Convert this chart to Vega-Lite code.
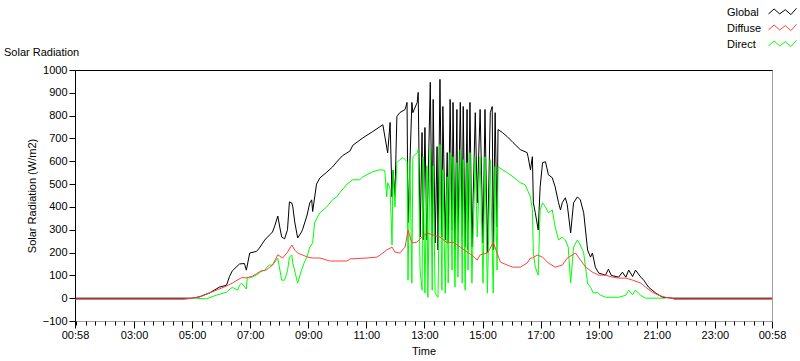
{
"$schema": "https://vega.github.io/schema/vega-lite/v6.json",
"width": 697, "height": 251,
"autosize": {"type": "none"},
"padding": {"left": 75, "top": 70, "right": 28, "bottom": 40},
"background": "white",
"title": {"text": "Solar Radiation", "anchor": "start", "frame": "group", "dx": -71, "offset": 3, "dy": 65, "baseline": "alphabetic", "font": "Liberation Sans", "fontSize": 11, "fontWeight": "normal", "color": "black"},
"config": {"view": {"stroke": "#a0a0a0"}},
"datasets": {
"g": [{"m":58,"v":0},{"m":300,"v":0},{"m":315,"v":6},{"m":336,"v":23},{"m":356,"v":48},{"m":371,"v":57},{"m":377,"v":94},{"m":383,"v":120},{"m":398,"v":150},{"m":408,"v":152},{"m":412,"v":123},{"m":419,"v":198},{"m":433,"v":205},{"m":439,"v":220},{"m":450,"v":255},{"m":454,"v":264},{"m":460,"v":277},{"m":466,"v":290},{"m":470,"v":312},{"m":477,"v":360},{"m":481,"v":312},{"m":485,"v":268},{"m":491,"v":260},{"m":497,"v":300},{"m":501,"v":422},{"m":506,"v":417},{"m":508,"v":400},{"m":512,"v":334},{"m":518,"v":264},{"m":526,"v":290},{"m":528,"v":300},{"m":537,"v":360},{"m":543,"v":417},{"m":547,"v":431},{"m":549,"v":380},{"m":557,"v":500},{"m":564,"v":527},{"m":578,"v":552},{"m":590,"v":575},{"m":599,"v":598},{"m":611,"v":625},{"m":626,"v":645},{"m":632,"v":670},{"m":653,"v":703},{"m":673,"v":730},{"m":694,"v":760},{"m":704,"v":637},{"m":709,"v":770},{"m":713,"v":444},{"m":715,"v":560},{"m":719,"v":450},{"m":723,"v":796},{"m":729,"v":813},{"m":740,"v":827},{"m":744,"v":858},{"m":746,"v":330},{"m":754,"v":858},{"m":756,"v":813},{"m":765,"v":858},{"m":767,"v":902},{"m":771,"v":268},{"m":775,"v":726},{"m":777,"v":255},{"m":781,"v":748},{"m":785,"v":255},{"m":792,"v":946},{"m":796,"v":268},{"m":798,"v":871},{"m":802,"v":242},{"m":806,"v":664},{"m":808,"v":211},{"m":812,"v":959},{"m":816,"v":268},{"m":818,"v":840},{"m":823,"v":255},{"m":827,"v":638},{"m":829,"v":242},{"m":833,"v":871},{"m":837,"v":299},{"m":839,"v":858},{"m":843,"v":211},{"m":847,"v":827},{"m":849,"v":242},{"m":854,"v":858},{"m":858,"v":268},{"m":860,"v":840},{"m":864,"v":224},{"m":868,"v":827},{"m":870,"v":211},{"m":874,"v":858},{"m":878,"v":224},{"m":885,"v":813},{"m":889,"v":418},{"m":895,"v":827},{"m":901,"v":242},{"m":905,"v":827},{"m":910,"v":198},{"m":916,"v":813},{"m":920,"v":840},{"m":922,"v":211},{"m":926,"v":813},{"m":930,"v":312},{"m":932,"v":739},{"m":941,"v":726},{"m":951,"v":708},{"m":963,"v":682},{"m":978,"v":651},{"m":992,"v":638},{"m":994,"v":620},{"m":999,"v":563},{"m":1003,"v":620},{"m":1005,"v":418},{"m":1009,"v":374},{"m":1015,"v":299},{"m":1019,"v":488},{"m":1024,"v":594},{"m":1030,"v":598},{"m":1036,"v":541},{"m":1044,"v":528},{"m":1050,"v":488},{"m":1057,"v":418},{"m":1061,"v":387},{"m":1065,"v":420},{"m":1071,"v":440},{"m":1075,"v":410},{"m":1082,"v":286},{"m":1088,"v":418},{"m":1096,"v":444},{"m":1102,"v":431},{"m":1109,"v":374},{"m":1117,"v":211},{"m":1123,"v":180},{"m":1127,"v":198},{"m":1133,"v":136},{"m":1140,"v":110},{"m":1154,"v":101},{"m":1160,"v":127},{"m":1166,"v":100},{"m":1181,"v":92},{"m":1189,"v":114},{"m":1196,"v":92},{"m":1202,"v":123},{"m":1210,"v":95},{"m":1216,"v":123},{"m":1227,"v":92},{"m":1233,"v":79},{"m":1243,"v":48},{"m":1258,"v":22},{"m":1272,"v":4},{"m":1293,"v":0},{"m":1498,"v":0}],
"d": [{"m":58,"v":-5},{"m":284,"v":-5},{"m":300,"v":0},{"m":315,"v":5},{"m":342,"v":28},{"m":371,"v":53},{"m":383,"v":66},{"m":402,"v":90},{"m":412,"v":89},{"m":425,"v":97},{"m":439,"v":115},{"m":454,"v":125},{"m":466,"v":145},{"m":477,"v":190},{"m":487,"v":176},{"m":497,"v":202},{"m":506,"v":233},{"m":512,"v":211},{"m":518,"v":198},{"m":528,"v":189},{"m":539,"v":180},{"m":549,"v":176},{"m":564,"v":176},{"m":584,"v":163},{"m":620,"v":163},{"m":626,"v":172},{"m":661,"v":176},{"m":682,"v":180},{"m":694,"v":198},{"m":702,"v":211},{"m":713,"v":224},{"m":719,"v":202},{"m":729,"v":198},{"m":740,"v":224},{"m":746,"v":299},{"m":754,"v":242},{"m":765,"v":246},{"m":775,"v":268},{"m":785,"v":286},{"m":798,"v":277},{"m":812,"v":268},{"m":827,"v":242},{"m":839,"v":246},{"m":854,"v":224},{"m":868,"v":202},{"m":878,"v":189},{"m":889,"v":167},{"m":895,"v":190},{"m":910,"v":198},{"m":916,"v":220},{"m":922,"v":246},{"m":930,"v":198},{"m":937,"v":158},{"m":951,"v":145},{"m":963,"v":136},{"m":978,"v":136},{"m":992,"v":154},{"m":999,"v":176},{"m":1003,"v":176},{"m":1013,"v":189},{"m":1024,"v":180},{"m":1036,"v":154},{"m":1050,"v":136},{"m":1065,"v":145},{"m":1075,"v":176},{"m":1092,"v":198},{"m":1098,"v":180},{"m":1113,"v":136},{"m":1127,"v":114},{"m":1140,"v":101},{"m":1154,"v":101},{"m":1169,"v":92},{"m":1181,"v":88},{"m":1196,"v":88},{"m":1210,"v":79},{"m":1227,"v":66},{"m":1237,"v":48},{"m":1251,"v":26},{"m":1264,"v":13},{"m":1278,"v":4},{"m":1293,"v":0},{"m":1295,"v":-5},{"m":1498,"v":-5}],
"b": [{"m":305,"v":0},{"m":329,"v":-3},{"m":350,"v":13},{"m":371,"v":26},{"m":383,"v":48},{"m":394,"v":35},{"m":398,"v":57},{"m":402,"v":66},{"m":412,"v":40},{"m":414,"v":92},{"m":419,"v":88},{"m":433,"v":101},{"m":439,"v":110},{"m":443,"v":123},{"m":450,"v":120},{"m":454,"v":136},{"m":460,"v":145},{"m":466,"v":145},{"m":477,"v":175},{"m":485,"v":79},{"m":491,"v":79},{"m":497,"v":120},{"m":501,"v":180},{"m":506,"v":189},{"m":508,"v":154},{"m":518,"v":66},{"m":526,"v":123},{"m":532,"v":158},{"m":537,"v":180},{"m":543,"v":224},{"m":549,"v":242},{"m":553,"v":330},{"m":559,"v":356},{"m":564,"v":374},{"m":578,"v":400},{"m":590,"v":431},{"m":599,"v":444},{"m":605,"v":462},{"m":620,"v":500},{"m":632,"v":519},{"m":646,"v":519},{"m":653,"v":532},{"m":661,"v":541},{"m":673,"v":554},{"m":688,"v":563},{"m":698,"v":560},{"m":702,"v":444},{"m":704,"v":506},{"m":709,"v":480},{"m":713,"v":233},{"m":715,"v":560},{"m":719,"v":400},{"m":723,"v":594},{"m":729,"v":607},{"m":736,"v":616},{"m":744,"v":598},{"m":746,"v":79},{"m":750,"v":600},{"m":754,"v":66},{"m":756,"v":620},{"m":765,"v":638},{"m":767,"v":651},{"m":771,"v":123},{"m":775,"v":35},{"m":777,"v":620},{"m":781,"v":22},{"m":785,"v":580},{"m":787,"v":4},{"m":792,"v":660},{"m":796,"v":35},{"m":798,"v":580},{"m":802,"v":22},{"m":808,"v":4},{"m":812,"v":673},{"m":816,"v":35},{"m":818,"v":563},{"m":823,"v":22},{"m":827,"v":532},{"m":829,"v":66},{"m":833,"v":638},{"m":837,"v":123},{"m":839,"v":620},{"m":843,"v":48},{"m":847,"v":594},{"m":849,"v":92},{"m":854,"v":651},{"m":858,"v":66},{"m":860,"v":607},{"m":864,"v":35},{"m":868,"v":594},{"m":870,"v":123},{"m":874,"v":638},{"m":878,"v":66},{"m":885,"v":620},{"m":889,"v":268},{"m":895,"v":620},{"m":901,"v":66},{"m":905,"v":620},{"m":910,"v":22},{"m":916,"v":607},{"m":922,"v":22},{"m":926,"v":576},{"m":930,"v":123},{"m":932,"v":576},{"m":941,"v":563},{"m":951,"v":550},{"m":963,"v":532},{"m":978,"v":506},{"m":988,"v":497},{"m":999,"v":444},{"m":1003,"v":387},{"m":1005,"v":198},{"m":1009,"v":136},{"m":1015,"v":101},{"m":1019,"v":387},{"m":1024,"v":418},{"m":1030,"v":400},{"m":1036,"v":374},{"m":1044,"v":387},{"m":1050,"v":312},{"m":1057,"v":255},{"m":1065,"v":268},{"m":1071,"v":255},{"m":1077,"v":224},{"m":1082,"v":66},{"m":1088,"v":224},{"m":1096,"v":255},{"m":1102,"v":233},{"m":1109,"v":198},{"m":1117,"v":66},{"m":1123,"v":48},{"m":1129,"v":22},{"m":1137,"v":26},{"m":1144,"v":13},{"m":1154,"v":4},{"m":1181,"v":4},{"m":1196,"v":13},{"m":1202,"v":35},{"m":1210,"v":15},{"m":1216,"v":35},{"m":1227,"v":12},{"m":1237,"v":0},{"m":1278,"v":0}]
},
"encoding": {
  "y": {"field": "v", "type": "quantitative", "scale": {"domain": [-100, 1000], "nice": false, "zero": false},
   "axis": {"values": [-100,0,100,200,300,400,500,600,700,800,900,1000], "format": "d", "tickSize": 6, "tickColor": "black", "domainColor": "black", "labelPadding": 2, "labelOverlap": false, "labelBound": false, "labelFlush": false,
    "labelFont": "Liberation Sans", "labelFontSize": 11, "labelColor": "black", "grid": false,
    "title": "Solar Radiation (W/m2)", "titleFont": "Liberation Sans", "titleFontSize": 11, "titleFontWeight": "normal", "titleColor": "black", "titlePadding": 5}}
},
"layer": [
{"data": {"name": "g"}, "mark": {"type": "line", "strokeWidth": 1},
 "encoding": {
  "x": {"field": "m", "type": "quantitative", "scale": {"domain": [58, 1498], "nice": false, "zero": false},
   "axis": {"orient": "bottom", "values": [58,180,300,420,540,660,780,900,1020,1140,1260,1380,1498],
    "labelExpr": "timeFormat(datetime(2000,0,1,0,datum.value),'%H:%M')",
    "tickSize": 7, "tickColor": "black", "domainColor": "#a0a0a0", "labelPadding": 1, "labelOverlap": false, "labelFlush": false, "labelBound": false,
    "labelFont": "Liberation Sans", "labelFontSize": 11, "labelColor": "black", "grid": false,
    "title": "Time", "titleFont": "Liberation Sans", "titleFontSize": 11, "titleFontWeight": "normal", "titleColor": "black", "titlePadding": 5}},
  "color": {"datum": "Global", "type": "nominal", "scale": {"domain": ["Global", "Diffuse", "Direct"], "range": ["#000000", "#ff4040", "#00ff00"]},
   "legend": {"title": null, "orient": "none", "legendX": 700, "legendY": -65, "symbolType": "M-2,0.2L-1.2,-0.5L-0.4,0.2L0.4,-0.4L1.2,0.3L2,-0.6", "symbolSize": 196, "symbolStrokeWidth": 1, "labelAlign": "left", "labelOffset": -63, "rowPadding": 3, "labelFont": "Liberation Sans", "labelFontSize": 11, "labelColor": "black"}}
 }},
{"data": {"name": "b"}, "mark": {"type": "line", "strokeWidth": 1},
 "encoding": {
  "x": {"field": "m", "type": "quantitative", "axis": null},
  "color": {"datum": "Direct", "type": "nominal"}
 }},
{"data": {"name": "d"}, "mark": {"type": "line", "strokeWidth": 1},
 "encoding": {
  "x": {"field": "m", "type": "quantitative", "axis": null},
  "color": {"datum": "Diffuse", "type": "nominal"}
 }},
{"data": {"name": "g"}, "mark": {"type": "point", "opacity": 0},
 "encoding": {
  "x": {"field": "m", "type": "quantitative",
   "axis": {"orient": "bottom", "values": [60,80,100,120,140,160,180,200,220,240,260,280,300,320,340,360,380,400,420,440,460,480,500,520,540,560,580,600,620,640,660,680,700,720,740,760,780,800,820,840,860,880,900,920,940,960,980,1000,1020,1040,1060,1080,1100,1120,1140,1160,1180,1200,1220,1240,1260,1280,1300,1320,1340,1360,1380,1400,1420,1440,1460,1480],
    "tickSize": 4, "tickColor": "black", "labels": false, "domain": false, "grid": false, "title": null}}
 }},
{"data": {"name": "g"}, "mark": {"type": "point", "opacity": 0},
 "encoding": {
  "x": {"field": "m", "type": "quantitative",
   "axis": {"orient": "top", "ticks": false, "labels": false, "domainColor": "black", "grid": false, "title": null}}
 }}
],
"resolve": {"axis": {"x": "independent"}}
}
